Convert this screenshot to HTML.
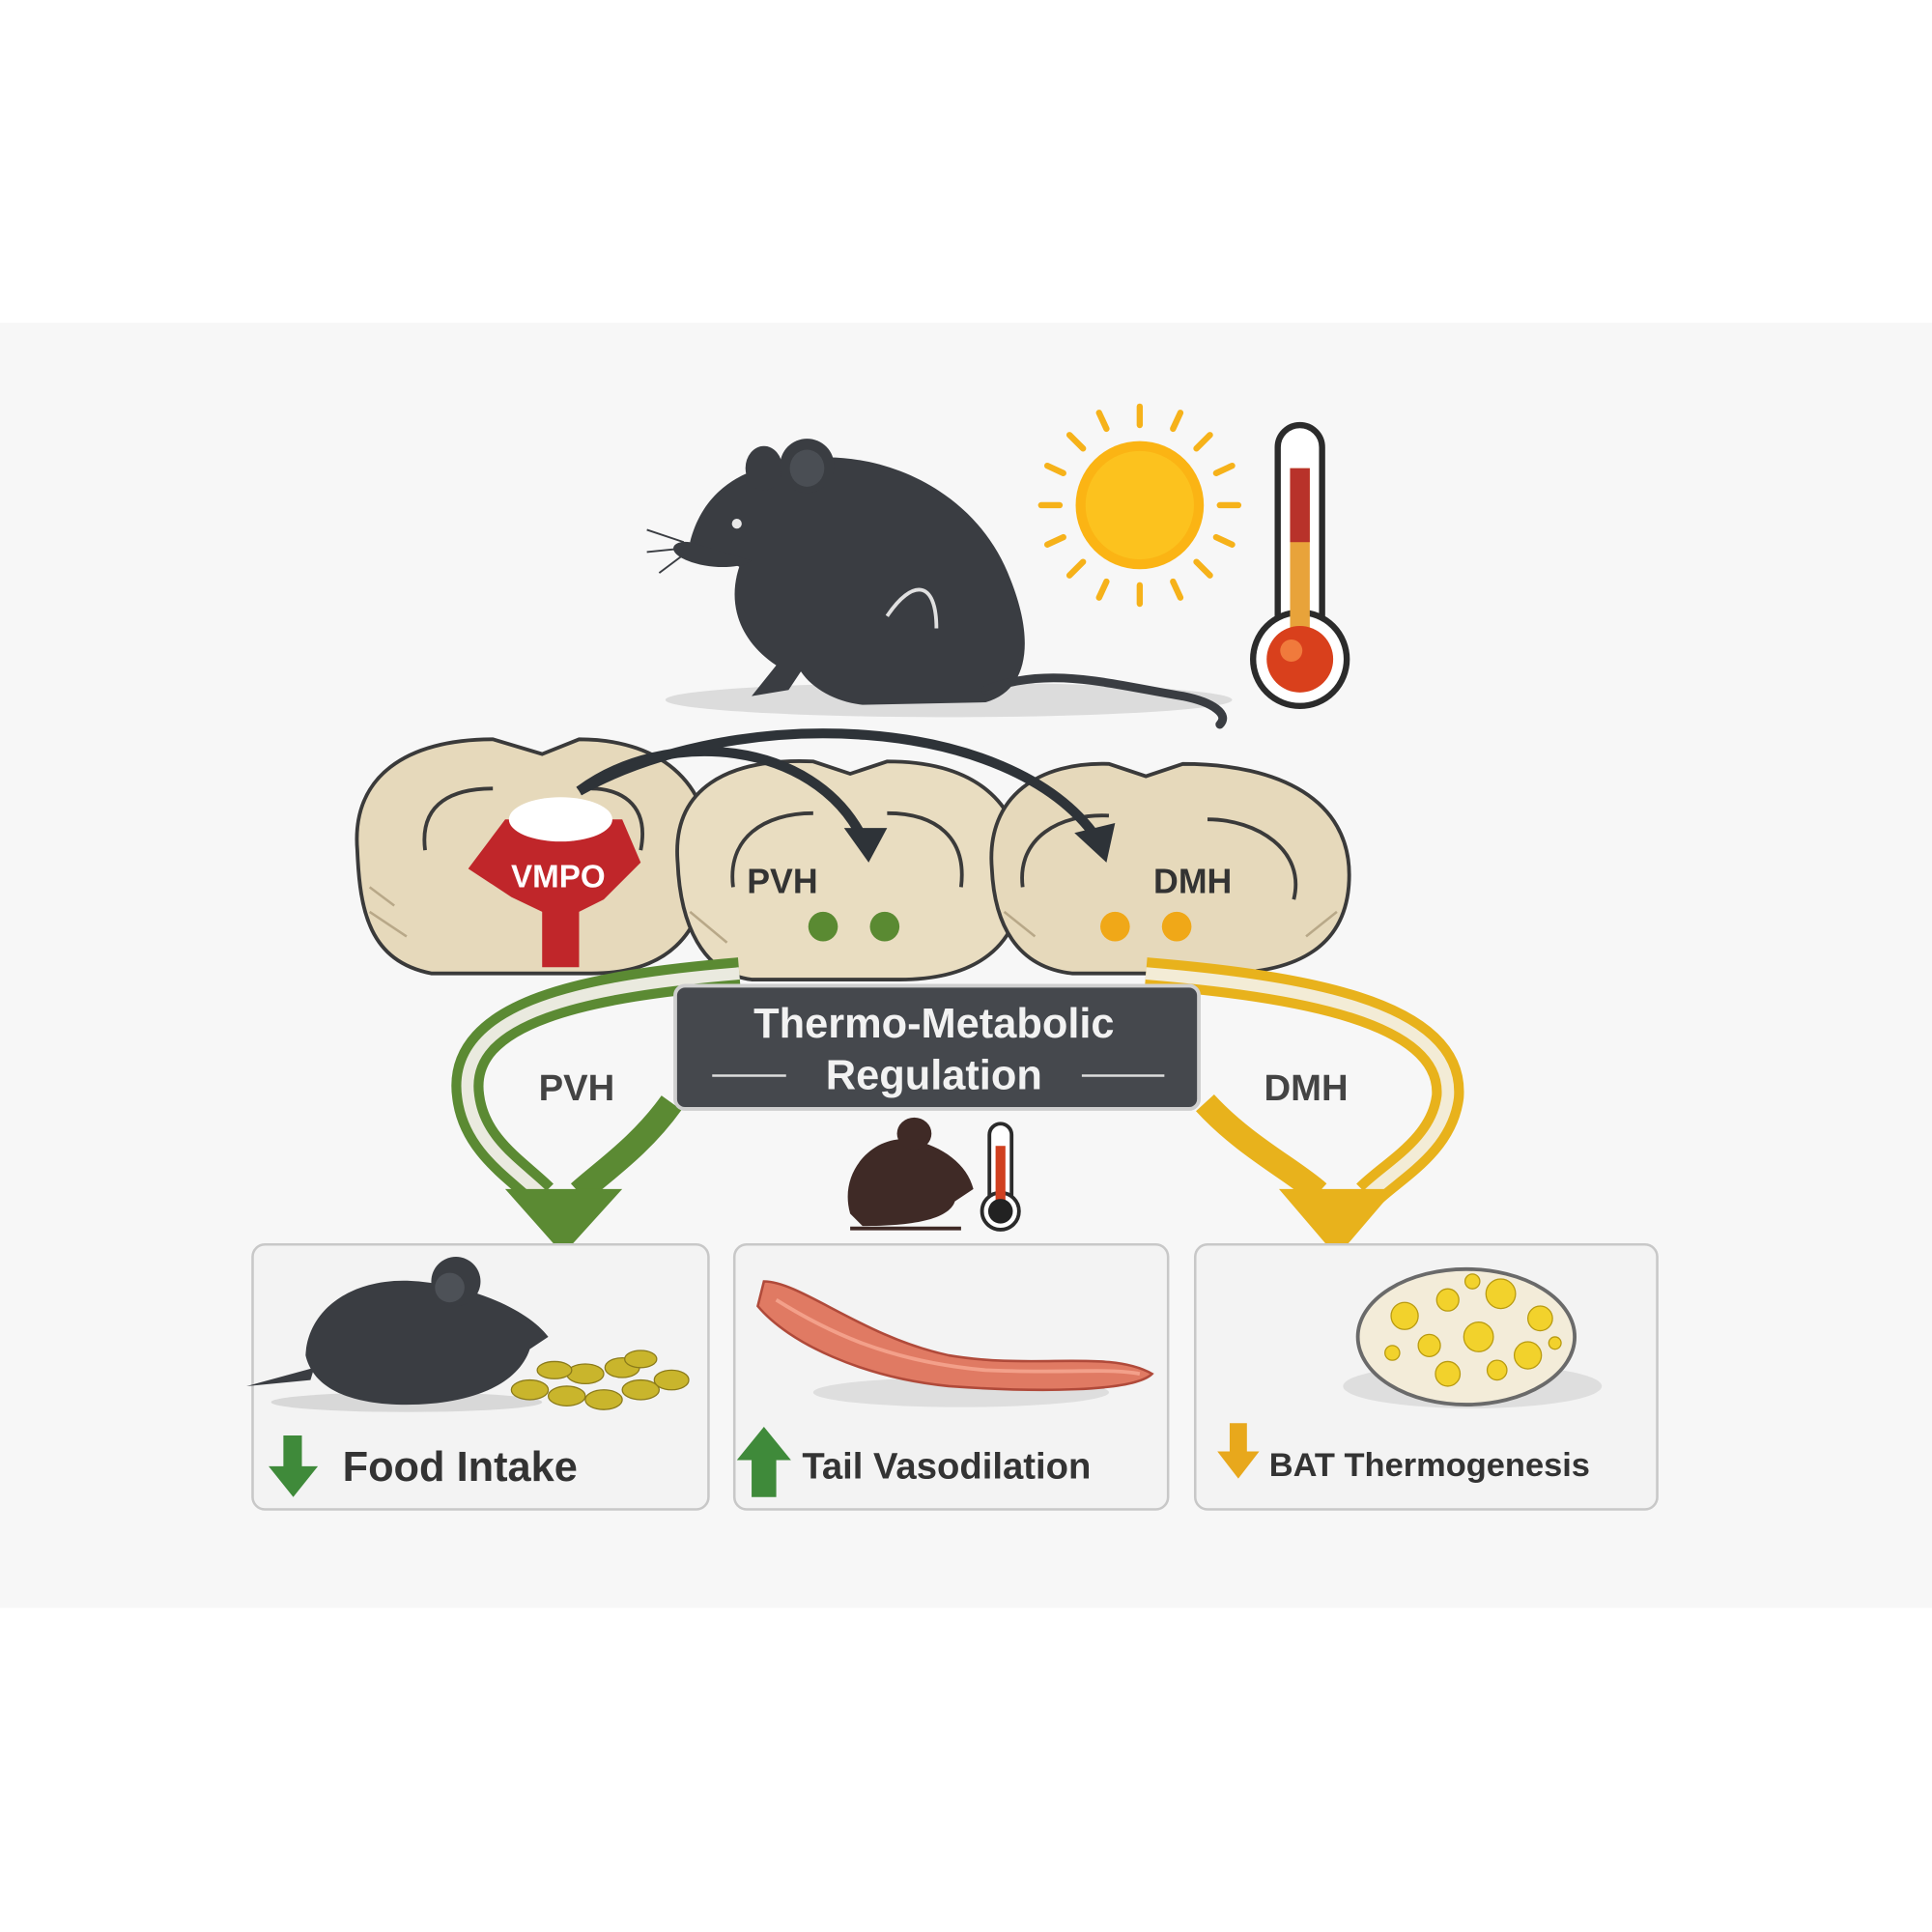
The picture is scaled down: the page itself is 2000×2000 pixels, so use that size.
<!DOCTYPE html>
<html><head><meta charset="utf-8"><style>
html,body{margin:0;padding:0;background:#fff;}
svg{display:block;}
text{font-family:"Liberation Sans",sans-serif;}
</style></head><body>
<svg width="2000" height="2000" viewBox="0 0 1568 1568" xmlns="http://www.w3.org/2000/svg">
<rect width="1568" height="1568" fill="#ffffff"/>
<rect x="0" y="262" width="1568" height="1043" fill="#f7f7f7"/>

<!-- big mouse -->
<ellipse cx="770" cy="568" rx="230" ry="14" fill="#dcdcdc"/>
<path d="M560,440 C570,400 600,380 640,375 C700,360 790,390 820,470 C840,520 835,560 800,570 L700,572 C680,570 660,560 650,545 L640,560 L610,565 L630,540 C600,520 590,490 600,460 Z" fill="#3a3d42"/>
<path d="M560,440 C545,438 540,448 558,455 C575,462 600,462 610,455 Z" fill="#3a3d42"/>
<ellipse cx="620" cy="380" rx="15" ry="18" fill="#3a3d42"/>
<ellipse cx="655" cy="378" rx="22" ry="22" fill="#3a3d42"/>
<ellipse cx="655" cy="380" rx="14" ry="15" fill="#4a4e54"/>
<circle cx="598" cy="425" r="4" fill="#e8e8e8"/>
<path d="M800,560 C850,540 900,555 960,565 C985,570 998,580 990,588" stroke="#3a3d42" stroke-width="7" fill="none" stroke-linecap="round"/>
<path d="M720,500 C740,470 760,470 760,510" stroke="#e0e0e0" stroke-width="3" fill="none"/>
<g stroke="#3a3d42" stroke-width="1.5"><line x1="555" y1="440" x2="525" y2="430"/><line x1="555" y1="445" x2="525" y2="448"/><line x1="555" y1="450" x2="535" y2="465"/></g>

<!-- sun -->
<g stroke="#f6b21a" stroke-width="5" stroke-linecap="round">
<line x1="925" y1="330" x2="925" y2="345"/><line x1="925" y1="475" x2="925" y2="490"/>
<line x1="845" y1="410" x2="860" y2="410"/><line x1="990" y1="410" x2="1005" y2="410"/>
<line x1="868" y1="353" x2="879" y2="364"/><line x1="971" y1="456" x2="982" y2="467"/>
<line x1="982" y1="353" x2="971" y2="364"/><line x1="879" y1="456" x2="868" y2="467"/>
<line x1="892" y1="335" x2="898" y2="348"/><line x1="958" y1="335" x2="952" y2="348"/>
<line x1="892" y1="485" x2="898" y2="472"/><line x1="958" y1="485" x2="952" y2="472"/>
<line x1="850" y1="378" x2="863" y2="384"/><line x1="850" y1="442" x2="863" y2="436"/>
<line x1="1000" y1="378" x2="987" y2="384"/><line x1="1000" y1="442" x2="987" y2="436"/>
</g>
<circle cx="925" cy="410" r="52" fill="#fbb414"/>
<circle cx="925" cy="410" r="44" fill="#fcc21e"/>

<!-- thermometer -->
<rect x="1037" y="345" width="36" height="190" rx="18" fill="#fff" stroke="#2b2b2b" stroke-width="5"/>
<circle cx="1055" cy="535" r="38" fill="#fff" stroke="#2b2b2b" stroke-width="5"/>
<rect x="1047" y="380" width="16" height="150" fill="#e8a33a"/>
<rect x="1047" y="380" width="16" height="60" fill="#b8322a"/>
<circle cx="1055" cy="535" r="27" fill="#d9401c"/>
<circle cx="1048" cy="528" r="9" fill="#f07a3c"/>

<!-- brain slices -->
<g stroke="#3a3a3a" stroke-width="3">
<path d="M290,690 C285,630 330,600 400,600 L440,612 L470,600 C540,600 580,640 575,700 C572,760 540,790 480,790 L350,790 C300,780 292,740 290,690 Z" fill="#e6d9bb"/>
<path d="M550,700 C545,640 590,615 660,618 L690,628 L720,618 C790,618 830,650 830,710 C830,770 790,795 730,795 L610,795 C570,790 552,750 550,700 Z" fill="#e9ddc1"/>
<path d="M805,705 C800,645 845,618 900,620 L930,630 L960,620 C1040,620 1095,650 1095,710 C1095,770 1050,790 990,790 L870,790 C825,785 807,750 805,705 Z" fill="#e6d9bb"/>
</g>
<g stroke="#3a3a3a" stroke-width="3" fill="none">
<path d="M345,690 C340,650 370,640 400,640"/><path d="M520,690 C528,650 500,640 480,640"/>
<path d="M595,720 C590,680 620,660 660,660"/><path d="M780,720 C785,680 760,660 720,660"/>
<path d="M830,720 C825,680 860,660 900,662"/><path d="M1050,730 C1060,690 1020,665 980,665"/>
</g>
<g stroke="#b8a888" stroke-width="2" fill="none">
<path d="M300,740 L330,760 M300,720 L320,735 M560,740 L590,765 M1085,740 L1060,760 M815,740 L840,760"/>
</g>
<path d="M410,665 L505,665 L520,700 L490,730 L470,740 L470,785 L440,785 L440,740 L415,728 L380,705 Z" fill="#c0262a"/>
<ellipse cx="455" cy="665" rx="42" ry="18" fill="#ffffff"/>
<text x="453" y="720" font-size="26" font-weight="bold" fill="#fff" text-anchor="middle">VMPO</text>
<text x="635" y="725" font-size="28" font-weight="bold" fill="#333" text-anchor="middle">PVH</text>
<text x="968" y="725" font-size="28" font-weight="bold" fill="#333" text-anchor="middle">DMH</text>
<circle cx="668" cy="752" r="12" fill="#5a8a32"/><circle cx="718" cy="752" r="12" fill="#5a8a32"/>
<circle cx="905" cy="752" r="12" fill="#f0a818"/><circle cx="955" cy="752" r="12" fill="#f0a818"/>
<!-- arcs -->
<g fill="none" stroke="#2e3338" stroke-width="8">
<path d="M470,642 C540,590 660,600 700,680"/>
<path d="M470,642 C600,570 820,580 890,680"/>
</g>
<path d="M685,672 L720,672 L705,700 Z" fill="#2e3338"/>
<path d="M872,676 L905,668 L898,700 Z" fill="#2e3338"/>

<!-- green curved arrow -->
<path d="M600,790 C480,800 370,820 380,890 C385,930 420,950 440,970" fill="none" stroke="#5b8a33" stroke-width="26"/>
<path d="M600,790 C480,800 370,820 380,890 C385,930 420,950 440,970" fill="none" stroke="#eaeadf" stroke-width="10"/>
<path d="M545,895 C520,930 490,950 470,968" fill="none" stroke="#5b8a33" stroke-width="20"/>
<path d="M410,965 L505,965 L457,1018 Z" fill="#5b8a33"/>
<text x="468" y="893" font-size="30" font-weight="bold" fill="#444" text-anchor="middle">PVH</text>
<!-- yellow curved arrow -->
<path d="M930,790 C1050,800 1180,820 1175,890 C1170,930 1130,950 1110,970" fill="none" stroke="#e8b21c" stroke-width="26"/>
<path d="M930,790 C1050,800 1180,820 1175,890 C1170,930 1130,950 1110,970" fill="none" stroke="#f3ecd6" stroke-width="10"/>
<path d="M978,895 C1010,930 1050,950 1070,968" fill="none" stroke="#e8b21c" stroke-width="20"/>
<path d="M1038,965 L1132,965 L1085,1020 Z" fill="#e8b21c"/>
<text x="1060" y="893" font-size="30" font-weight="bold" fill="#444" text-anchor="middle">DMH</text>

<!-- center box -->
<rect x="548" y="800" width="425" height="100" rx="8" fill="#45484d" stroke="#cfcfcf" stroke-width="3"/>
<text x="758" y="842" font-size="34" font-weight="bold" fill="#f2f2f2" text-anchor="middle">Thermo-Metabolic</text>
<text x="758" y="884" font-size="34" font-weight="bold" fill="#f2f2f2" text-anchor="middle">Regulation</text>
<line x1="578" y1="873" x2="638" y2="873" stroke="#ddd" stroke-width="2"/>
<line x1="878" y1="873" x2="945" y2="873" stroke="#ddd" stroke-width="2"/>

<!-- small mouse -->
<path d="M690,985 C680,950 710,920 740,925 C765,930 785,945 790,965 L775,975 C770,990 740,995 700,995 Z" fill="#3f2a26"/>
<ellipse cx="742" cy="920" rx="14" ry="13" fill="#3f2a26"/>
<line x1="690" y1="997" x2="780" y2="997" stroke="#3f2a26" stroke-width="3"/>
<rect x="803" y="912" width="18" height="70" rx="9" fill="#fff" stroke="#2b2b2b" stroke-width="3"/>
<circle cx="812" cy="983" r="15" fill="#fff" stroke="#2b2b2b" stroke-width="3"/>
<rect x="808" y="930" width="8" height="50" fill="#d04020"/><circle cx="812" cy="983" r="10" fill="#222"/>

<!-- bottom boxes -->
<g fill="#f3f3f3" stroke="#c8c8c8" stroke-width="2">
<rect x="205" y="1010" width="370" height="215" rx="10"/>
<rect x="596" y="1010" width="352" height="215" rx="10"/>
<rect x="970" y="1010" width="375" height="215" rx="10"/>
</g>
<!-- food mouse -->
<ellipse cx="330" cy="1138" rx="110" ry="8" fill="#d8d8d8"/>
<path d="M248,1100 C250,1060 290,1035 340,1040 C390,1045 430,1065 445,1085 L430,1095 C420,1125 380,1140 330,1140 C290,1140 255,1130 248,1100 Z" fill="#3a3d42"/>
<path d="M255,1110 L200,1125 L252,1120 Z" fill="#3a3d42"/>
<circle cx="370" cy="1040" r="20" fill="#3a3d42"/><circle cx="365" cy="1045" r="12" fill="#4d5157"/>
<g fill="#c9b52c" stroke="#8a7a1a" stroke-width="1">
<ellipse cx="430" cy="1128" rx="15" ry="8"/><ellipse cx="460" cy="1133" rx="15" ry="8"/><ellipse cx="490" cy="1136" rx="15" ry="8"/>
<ellipse cx="520" cy="1128" rx="15" ry="8"/><ellipse cx="545" cy="1120" rx="14" ry="8"/><ellipse cx="475" cy="1115" rx="15" ry="8"/>
<ellipse cx="505" cy="1110" rx="14" ry="8"/><ellipse cx="450" cy="1112" rx="14" ry="7"/><ellipse cx="520" cy="1103" rx="13" ry="7"/>
</g>
<path d="M230,1165 L245,1165 L245,1190 L258,1190 L238,1215 L218,1190 L230,1190 Z" fill="#3f8a3a"/>
<text x="278" y="1202" font-size="34" font-weight="600" fill="#333">Food Intake</text>
<!-- tail -->
<ellipse cx="780" cy="1130" rx="120" ry="12" fill="#dedede"/>
<path d="M620,1040 C650,1040 700,1085 770,1100 C840,1112 900,1095 935,1115 C920,1130 840,1130 770,1125 C700,1118 640,1090 615,1060 Z" fill="#e07a63" stroke="#b04a3a" stroke-width="2"/>
<path d="M630,1055 C670,1080 720,1105 800,1112 C860,1115 900,1110 925,1115" fill="none" stroke="#f3a08a" stroke-width="3"/>
<path d="M610,1215 L610,1185 L598,1185 L620,1158 L642,1185 L630,1185 L630,1215 Z" fill="#3f8a3a"/>
<text x="651" y="1200" font-size="30" font-weight="600" fill="#333">Tail Vasodilation</text>
<!-- BAT -->
<ellipse cx="1195" cy="1125" rx="105" ry="18" fill="#dedede"/>
<ellipse cx="1190" cy="1085" rx="88" ry="55" fill="#f3ecd9" stroke="#6a6a6a" stroke-width="3"/>
<g fill="#f2d22c" stroke="#b89a10" stroke-width="1">
<circle cx="1140" cy="1068" r="11"/><circle cx="1175" cy="1055" r="9"/><circle cx="1218" cy="1050" r="12"/><circle cx="1250" cy="1070" r="10"/>
<circle cx="1160" cy="1092" r="9"/><circle cx="1200" cy="1085" r="12"/><circle cx="1240" cy="1100" r="11"/><circle cx="1175" cy="1115" r="10"/>
<circle cx="1215" cy="1112" r="8"/><circle cx="1130" cy="1098" r="6"/><circle cx="1195" cy="1040" r="6"/><circle cx="1262" cy="1090" r="5"/>
</g>
<path d="M998,1155 L1012,1155 L1012,1178 L1022,1178 L1005,1200 L988,1178 L998,1178 Z" fill="#e8a81c"/>
<text x="1030" y="1198" font-size="27" font-weight="600" fill="#333">BAT Thermogenesis</text>
</svg>
</body></html>
